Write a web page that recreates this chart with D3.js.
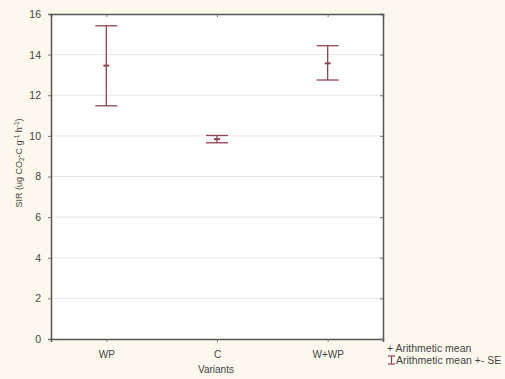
<!DOCTYPE html>
<html>
<head>
<meta charset="utf-8">
<script src="https://cdn.jsdelivr.net/npm/d3@7"></script>
<style>
  body { margin: 0; background: #fdf8ee; }
  svg { display: block; font-family: "Liberation Sans", Arial, sans-serif; }
</style>
</head>
<body>
<svg id="chart" width="505" height="379"></svg>
<script>
const variants = ["WP", "C", "W+WP"];
const means = [13.46, 9.84, 13.57];
const upper = [15.42, 10.02, 14.44];
const lower = [11.48, 9.66, 12.75];
const yTicks = [0, 2, 4, 6, 8, 10, 12, 14, 16];

const svg = d3.select("svg#chart");
const plot = { left: 51, top: 14, right: 383, bottom: 339 };
const red = "#8e4550";

const x = d3.scalePoint().domain(variants).range([plot.left, plot.right]).padding(0.5);
const y = d3.scaleLinear().domain([0, 16]).range([plot.bottom, plot.top]);

svg.append("rect")
  .attr("x", plot.left).attr("y", plot.top)
  .attr("width", plot.right - plot.left).attr("height", plot.bottom - plot.top)
  .attr("fill", "#fff");

// grid
svg.append("g").selectAll("line")
  .data(yTicks.filter((t) => t > 0 && t < 16))
  .enter().append("line")
  .attr("x1", plot.left).attr("x2", plot.right)
  .attr("y1", (d) => y(d)).attr("y2", (d) => y(d))
  .attr("stroke", "#e8e8e8");

// axes
const yAxis = svg.append("g")
  .attr("transform", `translate(${plot.left},0)`)
  .call(d3.axisLeft(y).tickValues(yTicks).tickSize(3).tickPadding(7));
const xAxis = svg.append("g")
  .attr("transform", `translate(0,${plot.bottom})`)
  .call(d3.axisBottom(x).tickSize(3).tickPadding(9));
const yRight = svg.append("g")
  .attr("transform", `translate(${plot.right},0)`)
  .call(d3.axisLeft(y).tickValues(yTicks).tickSize(3).tickFormat(""));
const xTop = svg.append("g")
  .attr("transform", `translate(0,${plot.top})`)
  .call(d3.axisBottom(x).tickSize(3).tickFormat(""));

[yAxis, xAxis, yRight, xTop].forEach((a) => {
  a.select(".domain").attr("stroke", "#555").attr("stroke-width", 1.5);
  a.selectAll(".tick line").attr("stroke", "#777");
  a.selectAll("text").attr("fill", "#444").attr("font-size", 10.5);
});
xAxis.selectAll("text").attr("font-size", 10);

// error bars
const g = svg.append("g").attr("stroke", red).attr("stroke-width", 1.3);
const cap = 11;
g.selectAll(".stem").data(variants).enter().append("line")
  .attr("x1", (d) => x(d)).attr("x2", (d) => x(d))
  .attr("y1", (d, i) => y(upper[i])).attr("y2", (d, i) => y(lower[i]));
g.selectAll(".up").data(variants).enter().append("line")
  .attr("x1", (d) => x(d) - cap).attr("x2", (d) => x(d) + cap)
  .attr("y1", (d, i) => y(upper[i])).attr("y2", (d, i) => y(upper[i]));
g.selectAll(".lo").data(variants).enter().append("line")
  .attr("x1", (d) => x(d) - cap).attr("x2", (d) => x(d) + cap)
  .attr("y1", (d, i) => y(lower[i])).attr("y2", (d, i) => y(lower[i]));
g.selectAll(".mean").data(variants).enter().append("line")
  .attr("x1", (d) => x(d) - 3).attr("x2", (d) => x(d) + 3)
  .attr("y1", (d, i) => y(means[i])).attr("y2", (d, i) => y(means[i]))
  .attr("stroke-width", 2);

// labels
svg.append("text")
  .attr("x", (plot.left + plot.right) / 2 - 1).attr("y", 373)
  .attr("text-anchor", "middle").attr("font-size", 10).attr("fill", "#444")
  .text("Variants");

const yl = svg.append("text")
  .attr("transform", "translate(22,163) rotate(-90)")
  .attr("text-anchor", "middle").attr("font-size", 9).attr("fill", "#444");
yl.append("tspan").text("SIR (ug CO");
yl.append("tspan").attr("font-size", 6.5).attr("dy", 2).text("2");
yl.append("tspan").attr("dy", -2).text("-C g");
yl.append("tspan").attr("font-size", 6.5).attr("dy", -3).text("-1");
yl.append("tspan").attr("dy", 3).text(" h");
yl.append("tspan").attr("font-size", 6.5).attr("dy", -3).text("-1");
yl.append("tspan").attr("dy", 3).text(")");

// legend
const lg = svg.append("g").attr("font-size", 10.5).attr("fill", "#444");
lg.append("text").attr("x", 387).attr("y", 352).text("+ Arithmetic mean");
lg.append("text").attr("x", 396).attr("y", 364).text("Arithmetic mean +- SE");
const ib = lg.append("g").attr("stroke", red).attr("stroke-width", 1.2);
ib.append("line").attr("x1", 388).attr("x2", 395).attr("y1", 356).attr("y2", 356);
ib.append("line").attr("x1", 388).attr("x2", 395).attr("y1", 364).attr("y2", 364);
ib.append("line").attr("x1", 391.5).attr("x2", 391.5).attr("y1", 356).attr("y2", 364);
</script>
</body>
</html>
